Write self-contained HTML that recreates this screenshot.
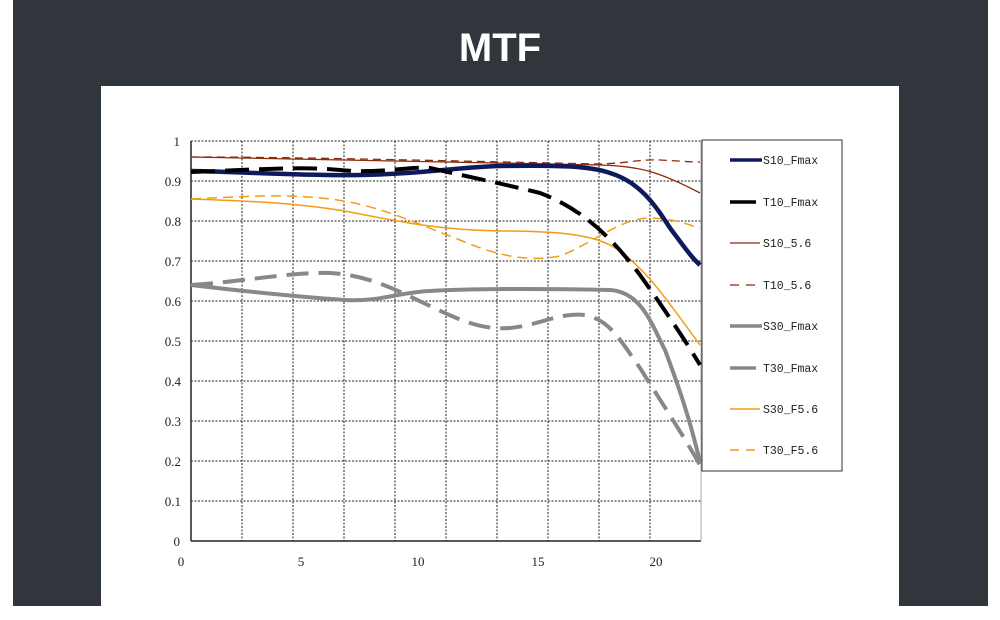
<!DOCTYPE html>
<html><head><meta charset="utf-8"><style>
html,body{margin:0;padding:0;background:#fff;}
#wrap{position:relative;width:1000px;height:620px;background:#fff;overflow:hidden;}
#dark{position:absolute;left:13px;top:0;width:975px;height:606px;background:#30363c;}
#card{position:absolute;left:101px;top:86px;width:798px;height:520px;background:#fff;}
#title{position:absolute;left:0;width:1000px;top:26px;text-align:center;color:#fff;font:bold 40px "Liberation Sans",sans-serif;}
svg{position:absolute;left:0;top:0;}
text{font-family:"Liberation Serif",serif;font-size:13px;fill:#222;}
text.lg{font-family:"Liberation Mono",monospace;font-size:11.5px;}
</style></head><body><div id="wrap">
<div id="dark"></div><div id="card"></div>
<div id="title">MTF</div>
<svg width="1000" height="620">
<g stroke="#222" stroke-width="1" stroke-dasharray="2,1.5">
<line x1="191" y1="141" x2="701" y2="141"/><line x1="191" y1="181" x2="701" y2="181"/><line x1="191" y1="221" x2="701" y2="221"/><line x1="191" y1="261" x2="701" y2="261"/><line x1="191" y1="301" x2="701" y2="301"/><line x1="191" y1="341" x2="701" y2="341"/><line x1="191" y1="381" x2="701" y2="381"/><line x1="191" y1="421" x2="701" y2="421"/><line x1="191" y1="461" x2="701" y2="461"/><line x1="191" y1="501" x2="701" y2="501"/>
<line x1="242" y1="141" x2="242" y2="541"/><line x1="293" y1="141" x2="293" y2="541"/><line x1="344" y1="141" x2="344" y2="541"/><line x1="395" y1="141" x2="395" y2="541"/><line x1="446" y1="141" x2="446" y2="541"/><line x1="497" y1="141" x2="497" y2="541"/><line x1="548" y1="141" x2="548" y2="541"/><line x1="599" y1="141" x2="599" y2="541"/><line x1="650" y1="141" x2="650" y2="541"/>
</g>
<line x1="191" y1="141" x2="191" y2="541" stroke="#222" stroke-width="1.5"/>
<line x1="191" y1="541" x2="701" y2="541" stroke="#222" stroke-width="1.5"/>
<line x1="701" y1="141" x2="701" y2="541" stroke="#aaa" stroke-width="1"/>
<g text-anchor="end">
<text x="180" y="146">1</text><text x="181" y="186">0.9</text><text x="181" y="226">0.8</text><text x="181" y="266">0.7</text><text x="181" y="306">0.6</text><text x="181" y="346">0.5</text><text x="181" y="386">0.4</text><text x="181" y="426">0.3</text><text x="181" y="466">0.2</text><text x="181" y="506">0.1</text><text x="180" y="546">0</text>
</g>
<g text-anchor="middle">
<text x="181" y="566">0</text><text x="301" y="566">5</text><text x="418" y="566">10</text><text x="538" y="566">15</text><text x="656" y="566">20</text>
</g>
<g fill="none" stroke-linejoin="round" stroke-linecap="butt">
<path d="M191,157 C300,158 450,162 600,165 C640,166 660,172 700,193" stroke="#8b2a0a" stroke-width="1.3"/>
<path d="M191,157 C300,157 450,161 600,164 C630,163 640,159 660,160 C680,161 690,162 700,162" stroke="#8b2a0a" stroke-width="1.3" stroke-dasharray="8,5"/>
<path d="M191,199 C250,201 300,203 350,212 C400,222 440,230 500,231 C560,231 590,235 610,245 C640,262 660,290 700,345" stroke="#f39c12" stroke-width="1.5"/>
<path d="M191,199 C240,197 280,193 330,199 C380,205 420,225 460,240 C500,257 530,262 560,256 C590,245 620,218 650,218 C680,219 690,226 700,228" stroke="#f39c12" stroke-width="1.5" stroke-dasharray="10,6"/>
<path d="M191,285 C250,292 300,297 345,300 C380,302 400,292 430,291 C480,288 570,289 610,290 C640,292 650,320 665,350 C680,390 690,420 700,462" stroke="#888" stroke-width="4"/>
<path d="M191,285 C240,282 290,272 330,273 C370,275 400,292 430,306 C460,320 480,330 510,328 C540,325 560,312 585,315 C610,320 620,340 640,368 C660,400 680,430 700,465" stroke="#888" stroke-width="4" stroke-dasharray="22,10"/>
<path d="M191,171 C250,172 300,176 360,175 C420,174 460,167 500,166 C560,165 590,166 610,173 C640,182 655,205 670,228 C685,248 692,258 700,265" stroke="#0f1a5c" stroke-width="4.5"/>
<path d="M191,172 C250,170 300,166 340,170 C380,174 410,166 430,168 C460,175 500,183 540,193 C580,208 610,235 640,275 C665,310 685,340 700,365" stroke="#000" stroke-width="4" stroke-dasharray="24,10"/>
</g>
<rect x="702" y="140" width="140" height="331" fill="#fff" stroke="#333" stroke-width="1"/>
<g>
<line x1="730" y1="160" x2="762" y2="160" stroke="#0f1a5c" stroke-width="3.5"/>
<line x1="730" y1="202" x2="756" y2="202" stroke="#000" stroke-width="3.5"/>
<line x1="730" y1="243" x2="760" y2="243" stroke="#8b2a0a" stroke-width="1.3"/>
<line x1="730" y1="285" x2="762" y2="285" stroke="#8b2a0a" stroke-width="1.3" stroke-dasharray="9,7"/>
<line x1="730" y1="326" x2="762" y2="326" stroke="#888" stroke-width="3.5"/>
<line x1="730" y1="368" x2="756" y2="368" stroke="#888" stroke-width="3.5"/>
<line x1="730" y1="409" x2="760" y2="409" stroke="#f39c12" stroke-width="1.5"/>
<line x1="730" y1="450" x2="762" y2="450" stroke="#f39c12" stroke-width="1.5" stroke-dasharray="9,7"/>
</g>
<text class="lg" x="763" y="164">S10_Fmax</text><text class="lg" x="763" y="206">T10_Fmax</text><text class="lg" x="763" y="247">S10_5.6</text><text class="lg" x="763" y="289">T10_5.6</text><text class="lg" x="763" y="330">S30_Fmax</text><text class="lg" x="763" y="372">T30_Fmax</text><text class="lg" x="763" y="413">S30_F5.6</text><text class="lg" x="763" y="454">T30_F5.6</text>
</svg>
</div></body></html>
